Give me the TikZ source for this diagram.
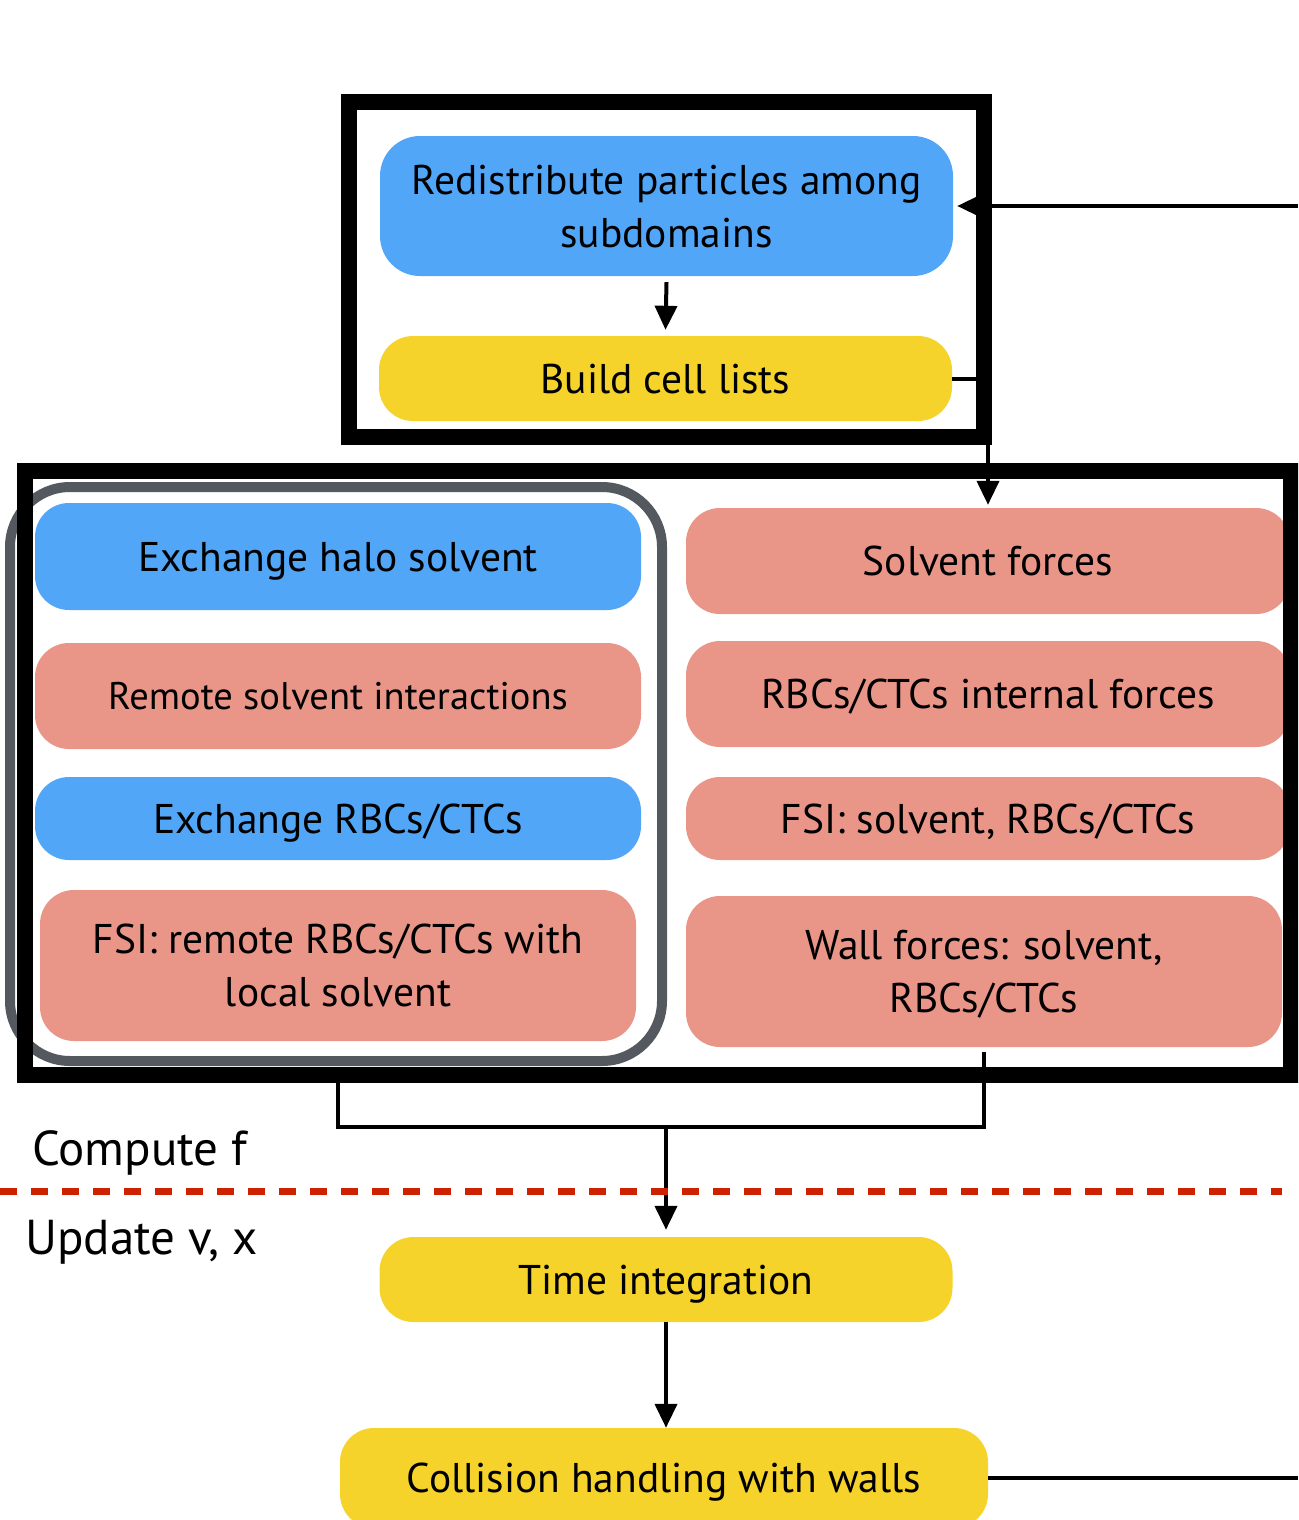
\documentclass[tikz,border=0pt]{standalone}
\usepackage{fontspec}
\setmainfont{PT Sans}
\usetikzlibrary{arrows.meta}
\definecolor{stepblue}{RGB}{82,166,248}
\definecolor{stepyellow}{RGB}{245,211,42}
\definecolor{stepsalmon}{RGB}{233,150,137}
\definecolor{groupgrey}{RGB}{84,89,96}
\definecolor{phasered}{RGB}{204,34,0}
\begin{document}
\begin{tikzpicture}[x=1pt,y=-1pt,
  box/.style={rounded corners=34pt, align=center, inner sep=0pt, text depth=0pt,
    font=\fontsize{41.5}{53}\selectfont, text=black},
  bluebox/.style={box, fill=stepblue},
  yellowbox/.style={box, fill=stepyellow},
  salmonbox/.style={box, fill=stepsalmon},
  framebox/.style={draw=black, line width=16pt, inner sep=0pt},
  groupbox/.style={draw=groupgrey, fill=white, line width=10pt, rounded corners=60pt, inner sep=0pt},
  conn/.style={line width=4pt},
  arr/.style={conn, -{Triangle[length=24pt,width=22pt]}},
  phase/.style={font=\fontsize{49}{56}\selectfont, anchor=west, inner sep=0pt},
]
\clip (0,0) rectangle (1298,1520);
\useasboundingbox (0,0) rectangle (1298,1520);

% group of halo / remote steps
\node (group) [groupbox, minimum width=652pt, minimum height=574pt] at (336,774) {};

% left column
\node (halo) [bluebox, minimum width=606pt, minimum height=107pt] at (338,556.5) {Exchange halo solvent};
\node (remote) [salmonbox, font=\fontsize{38.5}{50}\selectfont, minimum width=606pt, minimum height=106pt] at (338,696) {Remote solvent interactions};
\node (exrbc) [bluebox, minimum width=606pt, minimum height=83pt] at (338,818.5) {Exchange RBCs/CTCs};
\node (fsiremote) [salmonbox, minimum width=596pt, minimum height=151pt] at (338,965.5) {FSI: remote RBCs/CTCs with\\local solvent};

% right column
\node (solv) [salmonbox, minimum width=604pt, minimum height=106pt] at (988,561) {Solvent forces};
\node (rbcint) [salmonbox, minimum width=604pt, minimum height=106pt] at (988,694) {RBCs/CTCs internal forces};
\node (fsi) [salmonbox, minimum width=604pt, minimum height=83pt] at (988,818.5) {FSI: solvent, RBCs/CTCs};
\node (wall) [salmonbox, minimum width=596pt, minimum height=151pt] at (984,971.5) {Wall forces: solvent,\\RBCs/CTCs};

% frame around the force computation
\node (bigframe) [framebox, minimum width=1266pt, minimum height=604pt] at (658,773) {};

% frame around redistribution
\node (topframe) [framebox, minimum width=635pt, minimum height=335pt] at (666.5,269.5) {};
\node (redis) [bluebox, rounded corners=40pt, minimum width=573pt, minimum height=140pt] at (666.5,206) {Redistribute particles among\\subdomains};
\node (build) [yellowbox, minimum width=573pt, minimum height=85pt] at (665.5,378.5) {Build cell lists};

% update steps
\node (timeint) [yellowbox, minimum width=573pt, minimum height=85pt] at (666,1279.5) {Time integration};
\node (coll) [yellowbox, minimum width=648pt, minimum height=100pt] at (664,1478) {Collision handling with walls};

% phase labels
\node (lblf) [phase] at (32,1153) {Compute f};
\node (lblv) [phase] at (25,1242) {Update v, x};

% connectors
\coordinate (loopin) at (1298,206);
\coordinate (loopout) at (1298,1478);
\coordinate (join) at (666,1127);

\draw[arr] (loopin) -- ([xshift=4pt]redis.east);
\draw[arr] ([yshift=-6pt]redis.south) -- ([yshift=6pt]build.north);
\draw[arr] (build.east) -| ([yshift=3pt]solv.north);
\draw[conn] (bigframe.south -| fsiremote.south) |- (join) -| ([yshift=-5pt]wall.south);
\draw[arr] (join) -- ([yshift=7pt]timeint.north);
\draw[arr] (timeint.south) -- (timeint.south |- coll.north);
\draw[conn] (coll.east) -- (loopout);

% boundary between force computation and update
\coordinate (sepL) at (0,1191);
\coordinate (sepR) at (1282,1191);
\draw[phasered, line width=7pt, dash pattern=on 17pt off 14pt] (sepL) -- (sepR);
\end{tikzpicture}
\end{document}
